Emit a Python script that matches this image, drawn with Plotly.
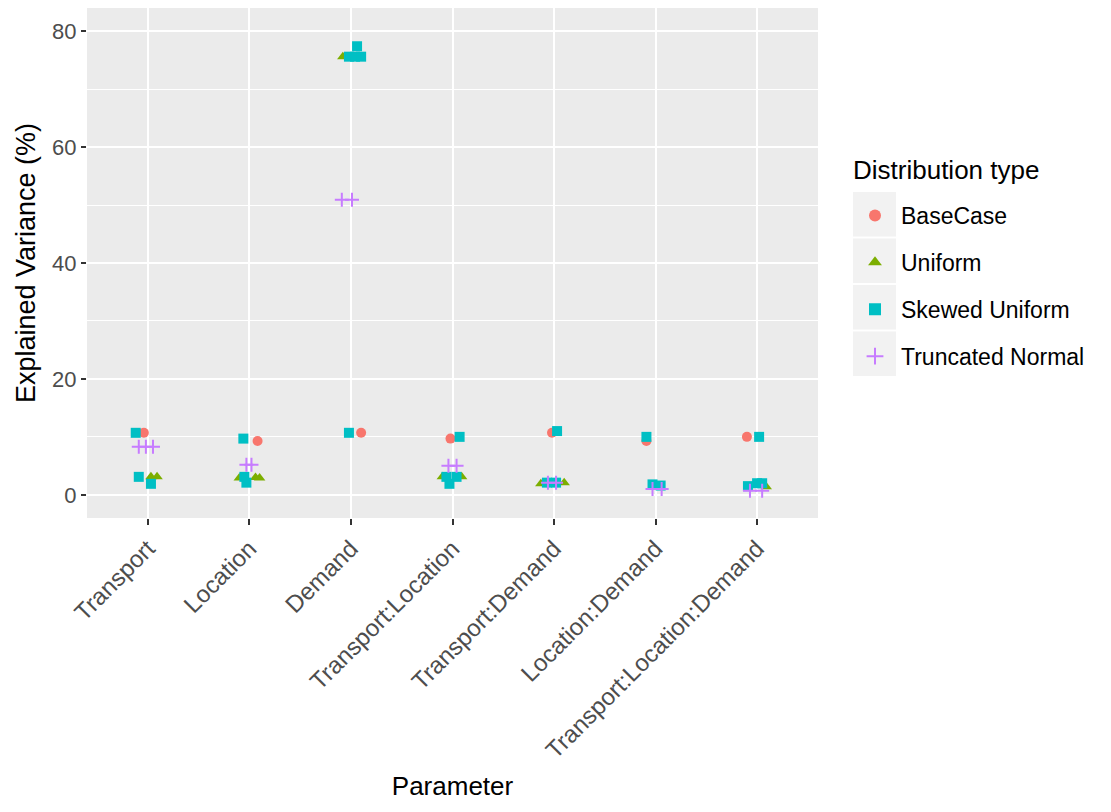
import plotly.graph_objects as go

# Model parameters (x categories)
params = ["Transport", "Location", "Demand", "Transport:Location",
          "Transport:Demand", "Location:Demand", "Transport:Location:Demand"]

# Explained variance (%) per parameter, one list per replicate set
basecase_vals = [[10.7], [9.3], [10.7], [9.7], [10.7], [9.3], [10.0]]
basecase_jit = [[-0.04], [0.08], [0.10], [-0.02], [-0.02], [-0.09], [-0.10]]

uniform_vals = [[3.1, 3.1], [2.9, 3.0, 2.9], [75.6], [3.1, 3.1],
                [1.9, 2.1], [1.3], [1.4]]
uniform_jit = [[0.03, 0.09], [-0.10, 0.06, 0.10], [-0.08], [-0.10, 0.09],
               [-0.13, 0.10], [0.04], [0.09]]

skewed_vals = [[10.7, 3.1, 1.9], [9.7, 3.1, 2.1], [10.7, 75.6, 75.6, 75.6, 77.4],
               [10.0, 3.1, 1.9, 3.1], [11.0, 2.1, 2.1], [10.0, 1.8, 1.6],
               [10.0, 1.5, 2.0, 2.0]]
skewed_jit = [[-0.12, -0.09, 0.03], [-0.06, -0.05, -0.03],
              [-0.02, -0.02, 0.04, 0.10, 0.06], [0.07, -0.06, -0.03, 0.04],
              [0.03, -0.07, 0.02], [-0.09, -0.03, 0.05], [0.02, -0.09, 0.00, 0.05]]

truncnorm_vals = [[8.3, 8.3, 8.3], [5.2, 5.2], [50.9, 50.9], [5.0, 5.0],
                  [2.1, 2.1], [1.0, 1.0], [0.7, 0.7]]
truncnorm_jit = [[-0.09, -0.02, 0.05], [-0.03, 0.02], [-0.09, 0.01], [-0.04, 0.04],
                 [-0.06, 0.02], [-0.03, 0.06], [-0.07, 0.05]]

series = [
    ("BaseCase", basecase_vals, basecase_jit, "#F8766D", "circle", 10),
    ("Uniform", uniform_vals, uniform_jit, "#7CAE00", "triangle-up", 10),
    ("Skewed Uniform", skewed_vals, skewed_jit, "#00BFC4", "square", 10),
    ("Truncated Normal", truncnorm_vals, truncnorm_jit, "#C77CFF", "cross-thin", 10),
]

FONT = "Liberation Sans, Arial, sans-serif"

fig = go.Figure()
for name, vals, jit, color, symbol, size in series:
    xs, ys = [], []
    for i, (vv, jj) in enumerate(zip(vals, jit)):
        for v, j in zip(vv, jj):
            xs.append(i + j)
            ys.append(v)
    marker = dict(color=color, symbol=symbol, size=size)
    if symbol == "cross-thin":
        marker["line"] = dict(color=color, width=2)
    else:
        marker["line"] = dict(width=0)
    fig.add_trace(go.Scatter(x=xs, y=ys, mode="markers", name=name,
                             marker=marker, legendgroup=name))

# grey legend key backgrounds
L, T, W, H = 87, 8, 731, 510
for k in range(4):
    top = 192 + k * 46.5
    bot = top + 44.5
    fig.add_shape(type="rect", xref="paper", yref="paper",
                  x0=(853 - L) / W, x1=(896 - L) / W,
                  y0=(T + H - bot) / H, y1=(T + H - top) / H,
                  fillcolor="#F2F2F2", line=dict(width=0), layer="below")

# legend heading
fig.add_annotation(text="Distribution type", xref="paper", yref="paper",
                   x=(851 - L) / W, y=(T + H - 170) / H, xanchor="left", yanchor="middle",
                   showarrow=False, font=dict(size=26, color="black"))

fig.update_layout(
    width=1111, height=812,
    margin=dict(l=87, r=293, t=8, b=294),
    paper_bgcolor="white", plot_bgcolor="#EBEBEB",
    font=dict(family=FONT, color="black"),
    legend=dict(
        font=dict(size=23, color="black"),
        x=(849 - L) / W, xanchor="left", y=(T + H - 194) / H, yanchor="top",
        tracegroupgap=14, itemsizing="constant", itemwidth=42,
        bgcolor="rgba(0,0,0,0)",
    ),
    xaxis=dict(
        range=[-0.6, 6.6], tickvals=list(range(len(params))), ticktext=params,
        tickangle=-45, tickfont=dict(size=24, color="#4D4D4D"),
        showgrid=True, gridcolor="white", gridwidth=2.2, zeroline=False,
        ticks="outside", ticklen=6, tickcolor="#333333", tickwidth=1.5,
        title=dict(text="Parameter", font=dict(size=26, color="black"), standoff=14),
    ),
    yaxis=dict(
        range=[-4.0, 84.0], tickvals=[0, 20, 40, 60, 80],
        tickfont=dict(size=22, color="#4D4D4D"),
        showgrid=True, gridcolor="white", gridwidth=2.2, zeroline=False,
        minor=dict(tickvals=[10, 30, 50, 70], showgrid=True,
                   gridcolor="white", gridwidth=1.3),
        ticks="outside", ticklen=5, tickcolor="#333333", tickwidth=1.5,
        title=dict(text="Explained Variance (%)", font=dict(size=27, color="black"),
                   standoff=8),
    ),
)

fig.write_html("out.html")
